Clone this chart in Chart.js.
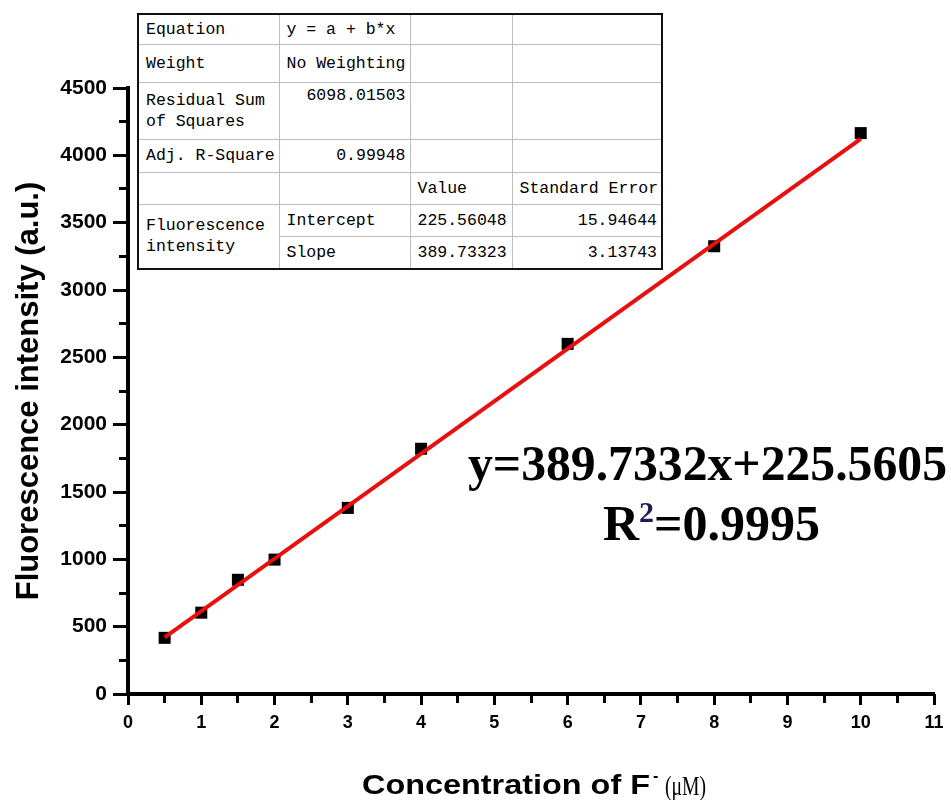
<!DOCTYPE html>
<html>
<head>
<meta charset="utf-8">
<script src="https://cdn.jsdelivr.net/npm/chart.js@4.4.1/dist/chart.umd.min.js"></script>
<style>
  body { margin: 0; background: #fff; }
  #wrap { position: relative; width: 951px; height: 800px; }
  #fit {
    position: absolute; left: 137px; top: 13px; width: 526px;
    border-collapse: collapse; table-layout: fixed; background: #fff;
    border: 2px solid #111;
    font: 16.5px "Liberation Mono", "DejaVu Sans Mono", monospace; line-height: 21px; color: #000;
  }
  #fit td { border: 1px solid #bdbdbd; padding: 0 4px 0 7px; vertical-align: middle; white-space: nowrap; overflow: hidden; }
  #fit td.r { text-align: right; }
  #fit td.top { vertical-align: top; padding-top: 2px; }
</style>
</head>
<body>
<div id="wrap">
  <canvas id="grafico"></canvas>
  <table id="fit">
    <colgroup><col style="width:141px"><col style="width:131px"><col style="width:102px"><col style="width:150px"></colgroup>
    <tr style="height:30px"><td>Equation</td><td>y = a + b*x</td><td></td><td></td></tr>
    <tr style="height:38px"><td>Weight</td><td>No Weighting</td><td></td><td></td></tr>
    <tr style="height:57px"><td>Residual Sum<br>of Squares</td><td class="r top">6098.01503</td><td></td><td></td></tr>
    <tr style="height:33px"><td>Adj. R-Square</td><td class="r">0.99948</td><td></td><td></td></tr>
    <tr style="height:32px"><td></td><td></td><td>Value</td><td>Standard Error</td></tr>
    <tr style="height:32px"><td rowspan="2">Fluorescence<br>intensity</td><td>Intercept</td><td>225.56048</td><td class="r">15.94644</td></tr>
    <tr style="height:33px"><td>Slope</td><td>389.73323</td><td class="r">3.13743</td></tr>
  </table>
</div>
<script>
// datos
const concentracion = [0.5, 1, 1.5, 2, 3, 4, 6, 8, 10];
const intensidad = [417, 604, 848, 998, 1382, 1821, 2600, 3325, 4165];
// recta de ajuste (extremos)
const ajusteX = [0.5, 10];
const ajusteY = [420.4, 4122.9];

const sans = '"Liberation Sans", Arial, sans-serif';
const serif = '"Liberation Serif", "Times New Roman", serif';

// texto fijo a un ancho dado
function textoAncho(ctx, txt, x, y, ancho) {
  const w = ctx.measureText(txt).width;
  ctx.save();
  ctx.translate(x, y);
  ctx.scale(ancho / w, 1);
  ctx.fillText(txt, 0, 0);
  ctx.restore();
  return ancho;
}

const textos = {
  id: 'textos',
  afterDraw(chart) {
    const ctx = chart.ctx;
    ctx.save();
    ctx.fillStyle = '#000';
    ctx.textBaseline = 'alphabetic';
    ctx.textAlign = 'left';

    // titulo eje x
    ctx.font = 'bold 27px ' + sans;
    textoAncho(ctx, 'Concentration of F', 362, 794, 288);
    ctx.font = 'bold 16px ' + sans;
    ctx.fillText('-', 653, 781);
    ctx.font = '27px ' + serif;
    textoAncho(ctx, '(\u03bcM)', 665, 795, 41);

    // ecuacion
    ctx.font = 'bold 50px ' + serif;
    textoAncho(ctx, 'y=389.7332x+225.5605', 468, 480, 479);
    ctx.fillText('R', 603, 540);
    const wR = ctx.measureText('R').width;
    ctx.font = 'bold 30px ' + serif;
    ctx.fillStyle = '#1c1c55';
    ctx.fillText('2', 603 + wR, 522);
    const w2 = ctx.measureText('2').width;
    ctx.fillStyle = '#000';
    ctx.font = 'bold 50px ' + serif;
    ctx.fillText('=0.9995', 603 + wR + w2, 540);
    ctx.restore();
  }
};

function renderGrafico() {
  const ctx = document.getElementById('grafico').getContext('2d');
  const negro = '#000';
  new Chart(ctx, {
    type: 'scatter',
    data: {
      datasets: [
        {
          data: ajusteX.map((x, i) => ({ x: x, y: ajusteY[i] })),
          showLine: true,
          borderColor: '#e8100f',
          borderWidth: 4,
          pointRadius: 0
        },
        {
          data: concentracion.map((x, i) => ({ x: x, y: intensidad[i] })),
          pointStyle: 'rect',
          pointRadius: 8.5,
          backgroundColor: negro,
          borderColor: negro,
          borderWidth: 0
        }
      ]
    },
    options: {
      responsive: true,
      maintainAspectRatio: false,
      animation: false,
      layout: { padding: { left: 0, top: 88, right: 17, bottom: 0 } },
      plugins: { legend: { display: false }, tooltip: { enabled: false } },
      scales: {
        x: {
          type: 'linear', position: 'bottom', min: 0, max: 11,
          ticks: { stepSize: 1, color: negro, padding: 7, font: { family: sans, size: 18, weight: 'bold' },
            callback: v => String(v) },
          grid: { drawOnChartArea: false, tickLength: 11, tickWidth: 3, tickColor: negro },
          border: { color: negro, width: 4 },
          afterFit: s => { s.height = 106; }
        },
        y: {
          type: 'linear', position: 'left', min: 0, max: 4500,
          ticks: { stepSize: 500, color: negro, padding: 6, font: { family: sans, size: 21, weight: 'bold' },
            callback: v => String(v) },
          grid: { drawOnChartArea: false, tickLength: 15, tickWidth: 3, tickColor: negro },
          border: { color: negro, width: 4 },
          title: {
            display: true, text: 'Fluorescence intensity (a.u.)', color: negro,
            font: { family: sans, size: 31, weight: 'bold' }, padding: { top: 11, bottom: 0 }
          },
          afterFit: s => { s.width = 128; }
        },
        xMenor: {
          type: 'linear', axis: 'x', position: { y: 0 }, min: 0, max: 11,
          ticks: { stepSize: 0.5, display: false },
          grid: { drawOnChartArea: false, tickLength: 9, tickWidth: 3, tickColor: negro },
          border: { display: false }
        },
        yMenor: {
          type: 'linear', axis: 'y', position: { x: 0 }, min: 0, max: 4500,
          ticks: { stepSize: 250, display: false },
          grid: { drawOnChartArea: false, tickLength: 9, tickWidth: 3, tickColor: negro },
          border: { display: false }
        }
      }
    },
    plugins: [textos]
  });
}

document.addEventListener("DOMContentLoaded", () => {
  renderGrafico();
});
</script>
</body>
</html>
